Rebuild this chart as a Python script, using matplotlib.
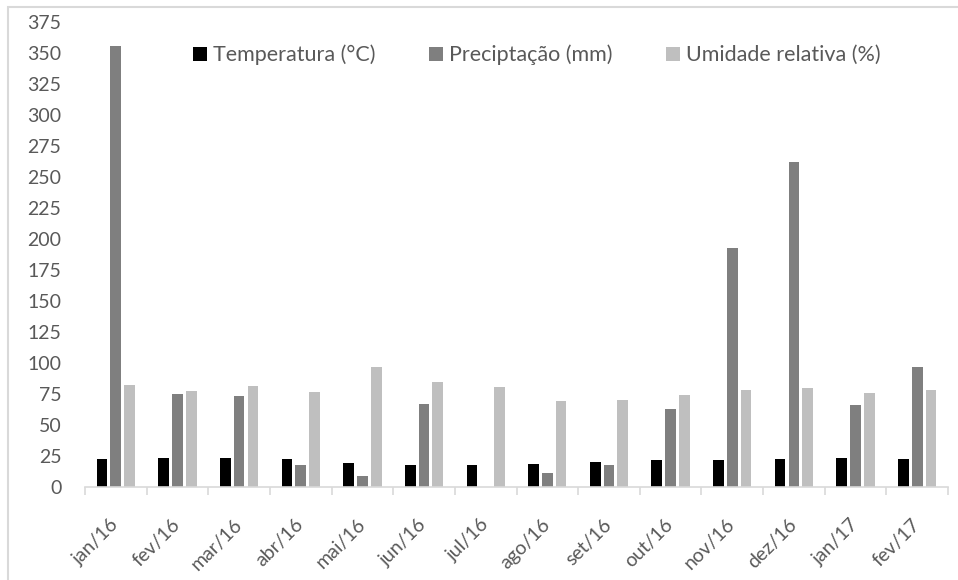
import numpy as np
import matplotlib.pyplot as plt
from matplotlib.patches import Rectangle

# dados mensais
meses = ['jan/16', 'fev/16', 'mar/16', 'abr/16', 'mai/16', 'jun/16', 'jul/16',
         'ago/16', 'set/16', 'out/16', 'nov/16', 'dez/16', 'jan/17', 'fev/17']
temperatura = [22.5, 23.5, 23.5, 22.5, 19.5, 17.5, 17.5, 18.5, 20.5, 21.5, 21.5, 22.5, 23.5, 22.5]
precipitacao = [355.5, 75.0, 73.0, 18.0, 9.0, 67.0, 0.0, 11.0, 17.5, 63.0, 192.5, 262.5, 66.0, 97.0]
umidade = [82.5, 77.5, 81.5, 76.5, 97.0, 84.5, 80.5, 69.0, 70.0, 74.5, 78.5, 79.5, 75.5, 78.5]

cor_texto = '#595959'
plt.rcParams['font.family'] = ['Lato', 'DejaVu Sans']
plt.rcParams['font.size'] = 14

fig = plt.figure(figsize=(9.58, 5.8), dpi=100)
ax = fig.add_axes([85 / 958, 93 / 580, 863 / 958, 465 / 580])

x = np.arange(len(meses))
w = 0.174
ax.bar(x - 0.224, temperatura, w, color='#000000', label='Temperatura (°C)')
ax.bar(x, precipitacao, w, color='#7f7f7f', label='Preciptação (mm)')
ax.bar(x + 0.224, umidade, w, color='#bfbfbf', label='Umidade relativa (%)')

ax.set_xlim(-0.5, len(meses) - 0.5)
ax.set_ylim(0, 375)
ax.set_yticks(np.arange(0, 376, 25))
ax.set_xticks(x)
ax.set_xticklabels(meses, rotation=45, ha='right', va='center', rotation_mode='anchor')
ax.set_xticks(np.arange(-0.5, len(meses), 1), minor=True)

ax.tick_params(axis='y', length=0, pad=17, colors=cor_texto)
ax.tick_params(axis='x', which='major', length=0, pad=25, colors=cor_texto)
ax.tick_params(axis='x', which='minor', length=6, width=1.2, color='#d9d9d9')

for s in ['top', 'right', 'left']:
    ax.spines[s].set_visible(False)
ax.spines['bottom'].set_color('#d9d9d9')
ax.spines['bottom'].set_linewidth(1.2)

leg = ax.legend(loc='center', bbox_to_anchor=(537 / 958, 525 / 580),
                bbox_transform=fig.transFigure, ncol=3, frameon=False,
                fontsize=15.5, handlelength=0.62, handleheight=0.62,
                handletextpad=0.3, columnspacing=2.5)
for t in leg.get_texts():
    t.set_color(cor_texto)

# moldura
fig.patches.append(Rectangle((8 / 958, -0.1), 1.2, (573 / 580) + 0.1,
                             transform=fig.transFigure, fill=False,
                             edgecolor='#d9d9d9', linewidth=1.5))

plt.savefig('out.png')
